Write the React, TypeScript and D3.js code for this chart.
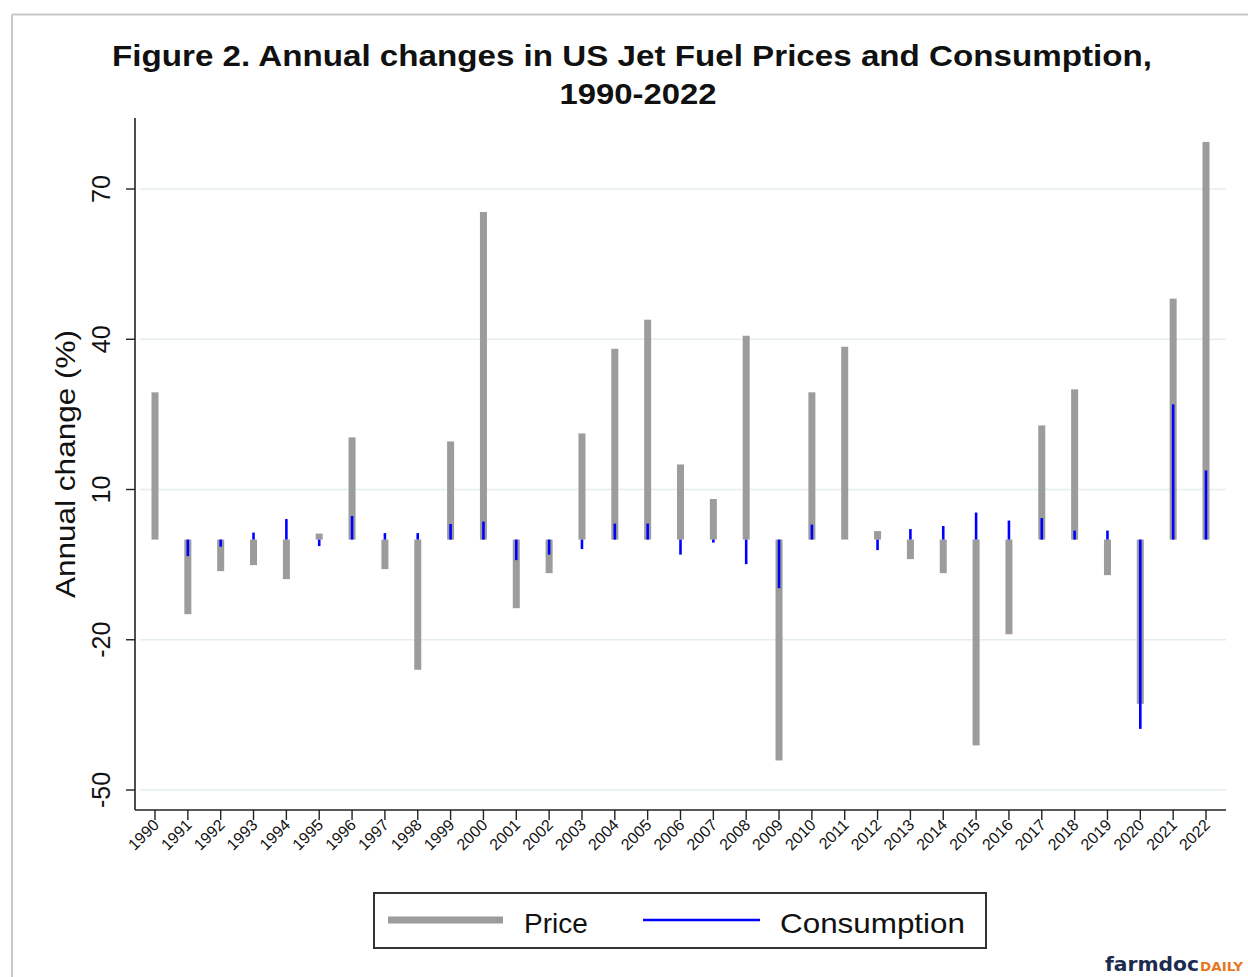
import React from "react";
import * as d3 from "d3";

const years = [1990,1991,1992,1993,1994,1995,1996,1997,1998,1999,2000,2001,2002,2003,2004,2005,2006,2007,2008,2009,2010,2011,2012,2013,2014,2015,2016,2017,2018,2019,2020,2021,2022];
const price = [29.4,-14.9,-6.3,-5.1,-7.9,1.2,20.4,-5.9,-26.0,19.6,65.4,-13.7,-6.7,21.2,38.1,43.9,15.0,8.1,40.7,-44.1,29.4,38.5,1.7,-3.9,-6.7,-41.1,-18.9,22.8,30.0,-7.1,-32.8,48.1,79.4];
const consumption = [0,-3.3,-1.4,1.4,4.1,-1.3,4.7,1.3,1.3,3.1,3.6,-4.1,-3.0,-1.9,3.2,3.2,-3.0,-0.6,-4.9,-9.7,3.0,0,-2.1,2.1,2.7,5.4,3.8,4.3,1.8,1.8,-37.8,27.0,13.8];
const yTicks = [70, 40, 10, -20, -50];

const FONT = "'Liberation Sans', Arial, Helvetica, sans-serif";

export default function App() {
  const x = d3.scalePoint<number>().domain(years).range([155, 1206]);
  const y = d3.scaleLinear().domain([-50, 70]).range([790, 189]);
  const axisLeft = 135;
  const axisBottom = 810;

  return (
    <svg width={1248} height={977} style={{ position: "absolute", left: 0, top: 0, background: "#fff" }} fontFamily={FONT}>
      <rect x={0} y={0} width={1248} height={977} fill="#fff" />
      {/* outer frame */}
      <line x1={12} y1={14.5} x2={1248} y2={14.5} stroke="#c8c8c8" strokeWidth={2} />
      <line x1={12} y1={14.5} x2={12} y2={977} stroke="#c8c8c8" strokeWidth={2} />

      {/* title */}
      <text x={632} y={66} textAnchor="middle" fontSize={30} fontWeight="bold" fill="#111" textLength={1040} lengthAdjust="spacingAndGlyphs">Figure 2. Annual changes in US Jet Fuel Prices and Consumption,</text>
      <text x={638} y={104} textAnchor="middle" fontSize={30} fontWeight="bold" fill="#111" textLength={157} lengthAdjust="spacingAndGlyphs">1990-2022</text>

      {/* grid */}
      {yTicks.map((t) => (
        <line key={"g" + t} x1={140} x2={1226} y1={y(t)} y2={y(t)} stroke="#e4eeef" strokeWidth={1.5} />
      ))}

      {/* axes */}
      <line x1={axisLeft} y1={118} x2={axisLeft} y2={axisBottom} stroke="#222" strokeWidth={1.6} />
      <line x1={axisLeft} y1={axisBottom} x2={1226} y2={axisBottom} stroke="#222" strokeWidth={1.6} />

      {/* y ticks */}
      {yTicks.map((t) => (
        <g key={"yt" + t}>
          <line x1={axisLeft - 9} x2={axisLeft} y1={y(t)} y2={y(t)} stroke="#222" strokeWidth={1.4} />
          <text transform={`translate(110,${y(t)}) rotate(-90)`} textAnchor="middle" fontSize={25} fill="#111">{t}</text>
        </g>
      ))}
      <text transform="translate(75,464) rotate(-90)" textAnchor="middle" fontSize={28} fill="#111" textLength={268} lengthAdjust="spacingAndGlyphs">Annual change (%)</text>

      {/* x ticks */}
      {years.map((yr) => (
        <g key={"xt" + yr}>
          <line x1={x(yr)} x2={x(yr)} y1={axisBottom} y2={axisBottom + 10} stroke="#222" strokeWidth={1.4} />
          <text transform={`translate(${(x(yr) as number) + 5},${axisBottom + 16}) rotate(-45)`} textAnchor="end" fontSize={16} fill="#111">{yr}</text>
        </g>
      ))}

      {/* price bars */}
      {years.map((yr, i) => (
        <rect key={"p" + yr} x={(x(yr) as number) - 3.5} width={7} y={Math.min(y(0), y(price[i]))} height={Math.abs(y(price[i]) - y(0))} fill="#9c9c9c" />
      ))}
      {/* consumption spikes */}
      {years.map((yr, i) => (
        consumption[i] !== 0 ? (
          <line key={"c" + yr} x1={x(yr)} x2={x(yr)} y1={y(0)} y2={y(consumption[i])} stroke="#0000ff" strokeWidth={2.6} />
        ) : null
      ))}

      {/* legend */}
      <rect x={374} y={893} width={612} height={55} fill="#fff" stroke="#333" strokeWidth={2} />
      <line x1={388} x2={503} y1={920} y2={920} stroke="#9c9c9c" strokeWidth={7} />
      <text x={524} y={933} fontSize={28} fill="#111">Price</text>
      <line x1={643} x2={760} y1={920} y2={920} stroke="#0000ff" strokeWidth={2.6} />
      <text x={780} y={933} fontSize={28} fill="#111" textLength={185} lengthAdjust="spacingAndGlyphs">Consumption</text>

      {/* logo */}
      <text x={1105} y={971} fontSize={19} fontWeight="bold" fill="#1d2b4f" fontFamily="'DejaVu Sans', sans-serif" textLength={94} lengthAdjust="spacingAndGlyphs">farmdoc</text>
      <text x={1200} y={971} fontSize={13} fontWeight="bold" fill="#e87722" fontFamily="'DejaVu Sans', sans-serif" textLength={43} lengthAdjust="spacingAndGlyphs">DAILY</text>
    </svg>
  );
}
